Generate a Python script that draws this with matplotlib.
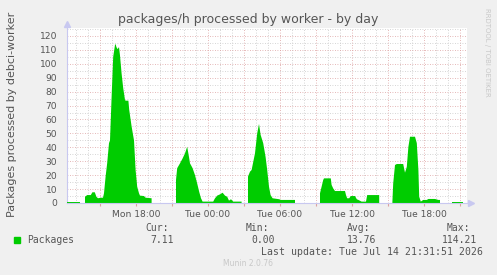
import numpy as np
import matplotlib
matplotlib.use("Agg")
import matplotlib.pyplot as plt
from matplotlib.ticker import MultipleLocator, FuncFormatter

# minutes after Mon 12:00, nan marks a gap in the data
minutes = [15, 80, np.nan,
           105, 116, 134, 142, 154, 162, 170, 184, 195, 200, 208, 216, 225, 230,
           238, 246, 255, 258, 262, 268, 275, 280, 288, 296, 305, 308, 322, 326,
           338, 350, 358, 366, 375, 380, 400, 408, 438, np.nan,
           560, 566, 580, 593, 605, 616, 625, 630, 643, 655, 666, 676, 685, 693,
           746, 755, 766, 780, 793, 805, 816, 825, 835, 846, 888, np.nan,
           920, 930, 938, 955, 966, 975, 983, 996, 1008, 1016, 1025, 1033, 1043,
           1076, 1085, 1155, np.nan,
           1280, 1288, 1296, 1300, 1334, 1338, 1346, 1355, 1405, 1410, 1416, 1426,
           1434, 1455, 1464, 1472, 1488, 1510, 1516, 1576, np.nan,
           1642, 1646, 1655, 1664, 1696, 1705, 1714, 1722, 1730, 1755, 1764, 1772,
           1776, 1784, 1796, 1814, 1822, 1855, 1872, 1880, np.nan,
           1938, 1996]
packages = [0.9, 0.9, np.nan,
            4.5, 5.7, 5.7, 7.7, 7.7, 4.5, 3.4, 3.8, 3.8, 7, 19, 28.7, 43, 45,
            76, 105, 113.5, 114.21, 112, 110.5, 112, 106, 93, 82.6, 74, 73.5, 73.5, 67,
            55, 45, 23.7, 11.7, 7, 5.3, 5, 3.8, 3.4, np.nan,
            16.5, 25, 28.5, 32, 35.7, 40.4, 33, 28.5, 25, 20, 14, 8, 3.4, 1,
            1, 3.4, 5.3, 6.2, 7.4, 5.3, 4.5, 1.7, 2.7, 1, 1, np.nan,
            19, 22.5, 23.7, 35.7, 50, 56.8, 49, 43, 33, 23.7, 11.7, 5.7, 3.4,
            2.7, 2.2, 2.2, np.nan,
            7, 11.7, 16.5, 17.7, 17.7, 13, 10.5, 8.6, 8.6, 5.7, 3.4, 3.4,
            5, 5, 2.7, 2.2, 1, 1, 5.7, 5.7, np.nan,
            1, 14, 27.3, 28, 28, 21.8, 26, 40.4, 47.6, 47.6, 43, 23.7,
            4.5, 1, 2.2, 2.2, 2.9, 2.9, 2.2, 2.2, np.nan,
            1, 1]

yticks = list(range(0, 130, 10))
legend_heads = ["Cur:", "Min:", "Avg:", "Max:"]
legend_vals = ["7.11", "0.00", "13.76", "114.21"]

hours = 12 + np.array(minutes, dtype=float) / 60.0
vals = np.array(packages, dtype=float)

green = "#00cc00"
textc = "#555555"
axisc = "#c8c8f0"

fig = plt.figure(figsize=(4.97, 2.75), dpi=100, facecolor="#f0f0f0")
ax = fig.add_axes([67/497, 1 - 203/275, 400/497, 175/275])
ax.set_facecolor("white")

ax.fill_between(hours, 0, vals, color=green, lw=0, zorder=3)

ax.set_xlim(12 + 15/60, 12 + 2015/60)
ax.set_ylim(0, 125.7)

# grid: grey every hour / 5 units, red every 3 hours / 10 units
ax.xaxis.set_major_locator(MultipleLocator(3))
ax.xaxis.set_minor_locator(MultipleLocator(1))
ax.yaxis.set_major_locator(MultipleLocator(10))
ax.yaxis.set_minor_locator(MultipleLocator(5))
ax.grid(which="minor", color="#c8c8c8", ls=(0, (1, 2)), lw=0.6, zorder=1)
ax.grid(which="major", color="#dca0a0", ls=(0, (1, 2)), lw=0.6, zorder=2)


def fmt_time(h, pos):
    h = int(round(h))
    if h % 6:
        return ""
    day = "Mon" if h < 24 else "Tue"
    return "%s %02d:00" % (day, h % 24)


ax.xaxis.set_major_formatter(FuncFormatter(fmt_time))
ax.set_yticks(yticks)
ax.tick_params(axis="x", which="major", length=2, color="#dca0a0", pad=3,
               labelsize=6.6, labelcolor=textc)
ax.tick_params(axis="x", which="minor", length=0)
ax.tick_params(axis="y", which="both", length=0, pad=7,
               labelsize=6.6, labelcolor=textc)

for s in ["top", "right"]:
    ax.spines[s].set_visible(False)
ax.spines["bottom"].set_color(axisc)
ax.spines["left"].set_color(axisc)
ax.spines["bottom"].set_linewidth(0.8)
ax.spines["left"].set_linewidth(0.8)
ax.spines["bottom"].set_zorder(4)

# arrows at the axis ends
ax.plot([1.01], [0], marker=">", color=axisc, ms=4, transform=ax.transAxes,
        clip_on=False, zorder=5)
ax.plot([0], [1.025], marker="^", color=axisc, ms=4, transform=ax.transAxes,
        clip_on=False, zorder=5)

fig.text(248/497, 1 - 19/275, "packages/h processed by worker - by day",
         ha="center", va="center", fontsize=9, color=textc)
fig.text(12/497, 1 - 114/275, "Packages processed by debci-worker",
         ha="center", va="center", rotation=90, fontsize=8, color=textc)
fig.text(487/497, 1 - 52/275, "RRDTOOL / TOBI OETIKER", ha="center",
         va="center", rotation=270, fontsize=5, color="#c8c8c8")

# legend block
mono = "DejaVu Sans Mono"
fig.patches.append(plt.Rectangle((14/497, 1 - 243/275), 6/497, 6/275,
                                 transform=fig.transFigure, color=green))
fig.text(27/497, 1 - 240/275, "Packages", family=mono, fontsize=7,
         va="center", color=textc)
head_x = [145, 246, 347, 447]
val_x = [174, 275, 376, 477]
for hd, v, hx, vx in zip(legend_heads, legend_vals, head_x, val_x):
    fig.text(hx/497, 1 - 228/275, hd, family=mono, fontsize=7,
             va="center", color=textc)
    fig.text(vx/497, 1 - 240/275, v, family=mono, fontsize=7,
             va="center", ha="right", color=textc)
fig.text(483/497, 1 - 252/275, "Last update: Tue Jul 14 21:31:51 2026",
         family=mono, fontsize=7.1, va="center", ha="right", color=textc)
fig.text(248/497, 1 - 264/275, "Munin 2.0.76", fontsize=5.5, ha="center",
         va="center", color="#c8c8c8")

fig.savefig("out.png", dpi=100, facecolor=fig.get_facecolor())
